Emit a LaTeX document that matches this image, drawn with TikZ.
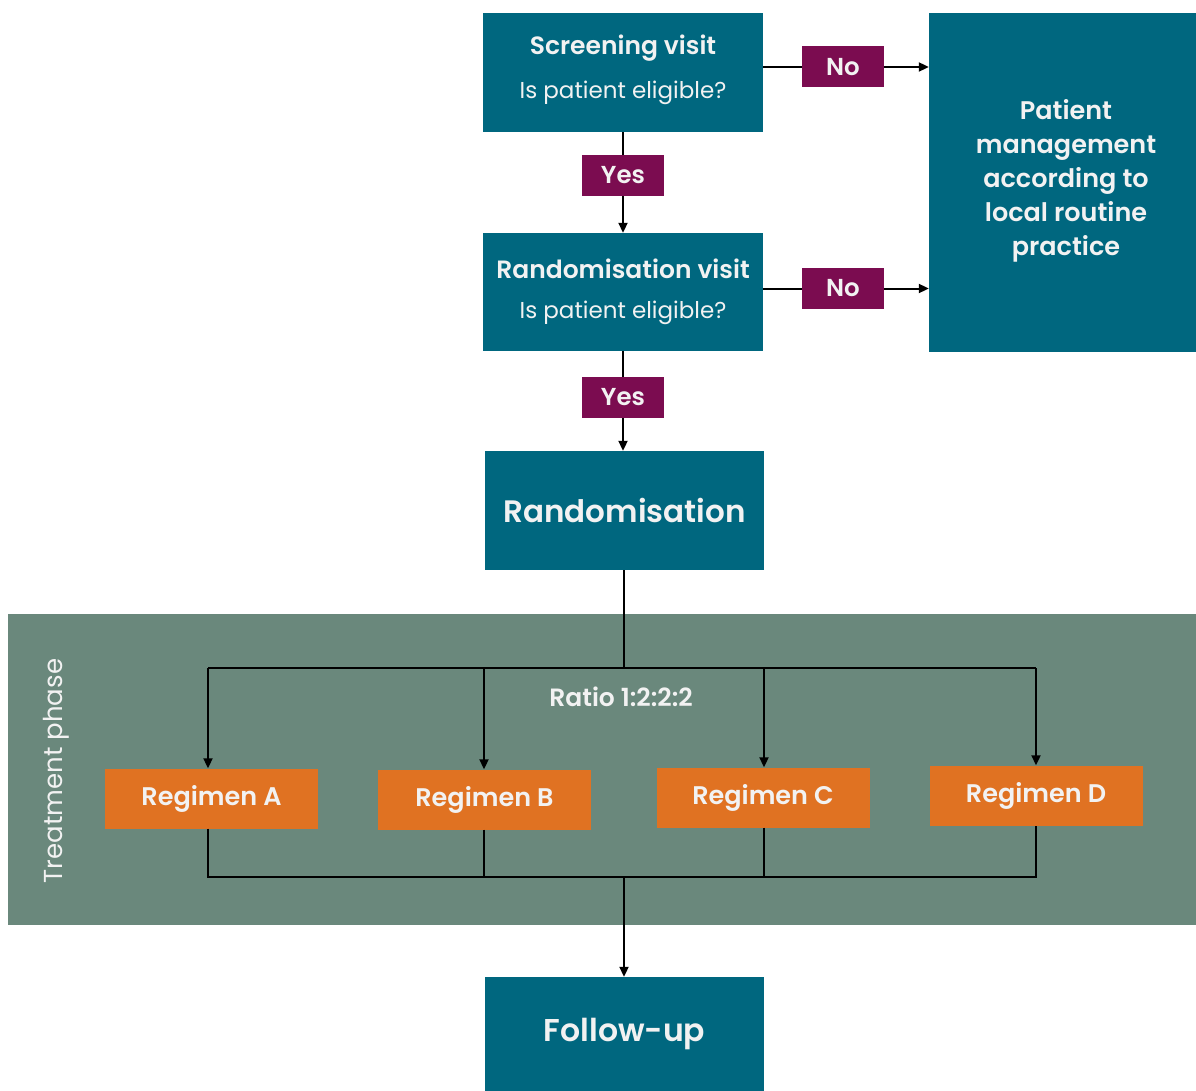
\documentclass[tikz,border=0pt]{standalone}
\usepackage{fontspec}
\setmainfont{Poppins}[BoldFont={Poppins SemiBold}]
\usetikzlibrary{arrows.meta}
\definecolor{teal}{HTML}{00677F}
\definecolor{plum}{HTML}{7B0C50}
\definecolor{amber}{HTML}{E07222}
\definecolor{sage}{HTML}{6A887C}
\definecolor{paper}{HTML}{F2F2F2}
\tikzset{
  box/.style={fill=teal, text=paper, align=center, inner sep=0pt},
  tag/.style={fill=plum, text=paper, minimum width=82pt, minimum height=41pt, inner sep=0pt, font=\fontsize{24.5}{28}\selectfont\bfseries},
  arm/.style={fill=amber, text=paper, minimum width=213pt, minimum height=60pt, inner sep=0pt, font=\fontsize{25.5}{29}\selectfont\bfseries},
  link/.style={line width=2pt, black},
  flow/.style={link, -{Triangle[length=10pt,width=9pt]}},
}
\begin{document}
\begin{tikzpicture}[x=1pt,y=-1pt]
\useasboundingbox (0,0) rectangle (1196,1091);
% treatment band
\fill[sage] (8,614) rectangle (1196,925);
\node[text=paper, rotate=90, font=\fontsize{26}{30}\selectfont] at (56,771) {Treatment phase};

% main column
\node[box, minimum width=280pt, minimum height=119pt] (screen) at (623,72.5) {};
\node[text=paper, font=\fontsize{25}{29}\selectfont\bfseries] at (623,48) {Screening visit};
\node[text=paper, font=\fontsize{23}{27}\selectfont] at (623,93) {Is patient eligible?};

\node[box, minimum width=280pt, minimum height=118pt] (rvisit) at (623,292) {};
\node[text=paper, font=\fontsize{25}{29}\selectfont\bfseries] at (623,269) {Randomisation visit};
\node[text=paper, font=\fontsize{23}{27}\selectfont] at (623,313) {Is patient eligible?};

\node[box, minimum width=267pt, minimum height=339pt] (manage) at (1062.5,182.5) {};
\node[text=paper, align=center, font=\fontsize{25.5}{34}\selectfont\bfseries] at (1066,181)
  {Patient\\management\\according to\\local routine\\practice};

\node[box, minimum width=279pt, minimum height=119pt, font=\fontsize{31}{35}\selectfont\bfseries] (rand) at (624.5,510.5) {Randomisation};
\node[box, minimum width=279pt, minimum height=114pt, font=\fontsize{31.5}{35}\selectfont\bfseries] (follow) at (624.5,1034) {Follow-up};

% decision tags
\node[tag] (no1) at (843,67) {No};
\node[tag] (no2) at (843,288.5) {No};
\node[tag] (yes1) at (623,175.5) {Yes};
\node[tag] (yes2) at (623,397.5) {Yes};

% arms
\node[arm] (ra) at (211.5,798.5) {Regimen A};
\node[arm] (rb) at (484.5,799.5) {Regimen B};
\node[arm] (rc) at (763,797.5) {Regimen C};
\node[arm] (rd) at (1036,795.5) {Regimen D};
\node[text=paper, font=\fontsize{25}{29}\selectfont\bfseries] (ratio) at (621,697) {Ratio 1:2:2:2};

% connectors
\draw[link] (screen.east |- no1) -- (no1.west);
\draw[flow] (no1.east) -- (manage.west |- no1);
\draw[link] (rvisit.east |- no2) -- (no2.west);
\draw[flow] (no2.east) -- (manage.west |- no2);
\draw[link] (screen.south) -- (yes1.north);
\draw[flow] (yes1.south) -- (rvisit.north);
\draw[link] (rvisit.south -| yes2) -- (yes2.north);
\draw[flow] (yes2.south) -- (rand.north -| yes2);

\coordinate (split) at (624,668);
\coordinate (merge) at (624,877);
\draw[link] (rand.south -| split) -- (split);
\draw[link] (208,668) -- (1036,668);
\draw[flow] (208,668) -- (ra.north -| 208,0);
\draw[flow] (484,668) -- (rb.north -| 484,0);
\draw[flow] (764,668) -- (rc.north -| 764,0);
\draw[flow] (1036,668) -- (rd.north -| 1036,0);
\draw[link] (ra.south -| 208,0) -- (208,877) -- (1036,877) -- (rd.south -| 1036,0);
\draw[link] (rb.south -| 484,0) -- (484,877);
\draw[link] (rc.south -| 764,0) -- (764,877);
\draw[flow] (merge) -- (follow.north -| merge);
\end{tikzpicture}
\end{document}
